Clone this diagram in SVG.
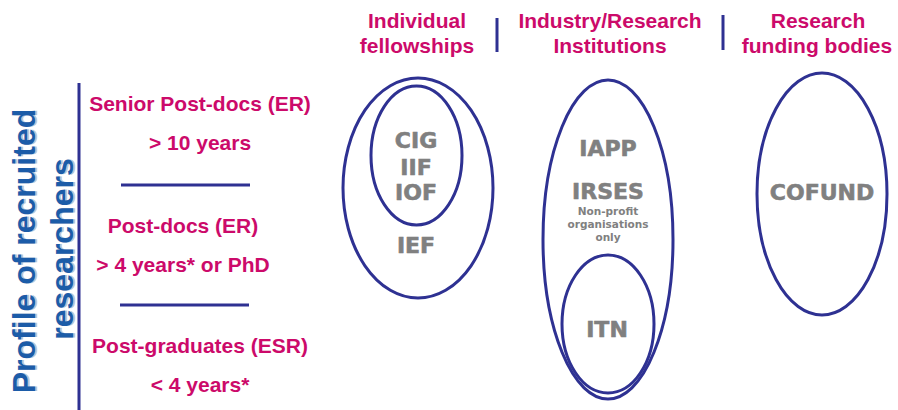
<svg xmlns="http://www.w3.org/2000/svg" width="898" height="410" viewBox="0 0 898 410">
<style>
.pk{font-family:"Liberation Sans",Arial,sans-serif;font-weight:bold;font-size:21px;fill:#cc0a6a;text-anchor:middle}
.gr{font-family:"DejaVu Sans",Verdana,sans-serif;font-weight:bold;font-size:22px;fill:#808080;stroke:#808080;stroke-width:0.6;text-anchor:middle}
.sm{font-family:"DejaVu Sans",Verdana,sans-serif;font-weight:bold;font-size:10.5px;fill:#808080;text-anchor:middle}
.bl{font-family:"Liberation Sans",Arial,sans-serif;font-weight:bold;font-size:32px;text-anchor:middle}
.el{fill:none;stroke:#2e3192;stroke-width:3}
.ln{stroke:#2e3192;stroke-width:3}
</style>
<rect width="898" height="410" fill="#ffffff"/>
<g id="headers">
<text class="pk" x="417" y="28">Individual</text>
<text class="pk" x="417" y="53">fellowships</text>
<text class="pk" x="610" y="28">Industry/Research</text>
<text class="pk" x="610" y="53">Institutions</text>
<text class="pk" x="818" y="28">Research</text>
<text class="pk" x="817" y="53">funding bodies</text>
<line class="ln" x1="497" y1="18" x2="497" y2="52"/>
<line class="ln" x1="723" y1="15" x2="723" y2="50"/>
</g>
<g id="axis">
<text class="bl" transform="translate(37,251) rotate(-90)" fill="#b8c4d8">Profile of recruited</text>
<text class="bl" transform="translate(35,251) rotate(-90)" fill="#1c5ca8">Profile of recruited</text>
<text class="bl" transform="translate(75,249) rotate(-90)" fill="#b8c4d8">researchers</text>
<text class="bl" transform="translate(73,249) rotate(-90)" fill="#1c5ca8">researchers</text>
<line class="ln" x1="79" y1="83" x2="79" y2="410"/>
</g>
<g id="levels">
<text class="pk" x="200" y="111">Senior Post-docs (ER)</text>
<text class="pk" x="200" y="150">&gt; 10 years</text>
<line class="ln" x1="121" y1="185" x2="250" y2="185"/>
<text class="pk" x="183" y="233">Post-docs (ER)</text>
<text class="pk" x="183" y="272">&gt; 4 years* or PhD</text>
<line class="ln" x1="120" y1="305" x2="249" y2="305"/>
<text class="pk" x="200" y="353">Post-graduates (ESR)</text>
<text class="pk" x="200" y="392">&lt; 4 years*</text>
</g>
<g id="individual">
<ellipse class="el" cx="418" cy="188" rx="75" ry="110"/>
<text class="gr" x="416" y="253">IEF</text>
</g>
<g id="individual-inner">
<ellipse class="el" cx="416.5" cy="155.5" rx="45.5" ry="69.5"/>
<text class="gr" x="416" y="148">CIG</text>
<text class="gr" x="416" y="175">IIF</text>
<text class="gr" x="416" y="200">IOF</text>
</g>
<g id="industry">
<ellipse class="el" cx="608" cy="239.5" rx="65" ry="159.5"/>
<text class="gr" x="608" y="156">IAPP</text>
<text class="gr" x="608" y="199">IRSES</text>
<text class="sm" x="608" y="215">Non-profit</text>
<text class="sm" x="608" y="228">organisations</text>
<text class="sm" x="608" y="241">only</text>
</g>
<g id="itn">
<ellipse class="el" cx="608" cy="324" rx="46" ry="69"/>
<text class="gr" x="607" y="337">ITN</text>
</g>
<g id="cofund">
<ellipse class="el" cx="822" cy="194" rx="65" ry="121"/>
<text class="gr" x="822" y="200">COFUND</text>
</g>
<g id="connectors"/>
</svg>
